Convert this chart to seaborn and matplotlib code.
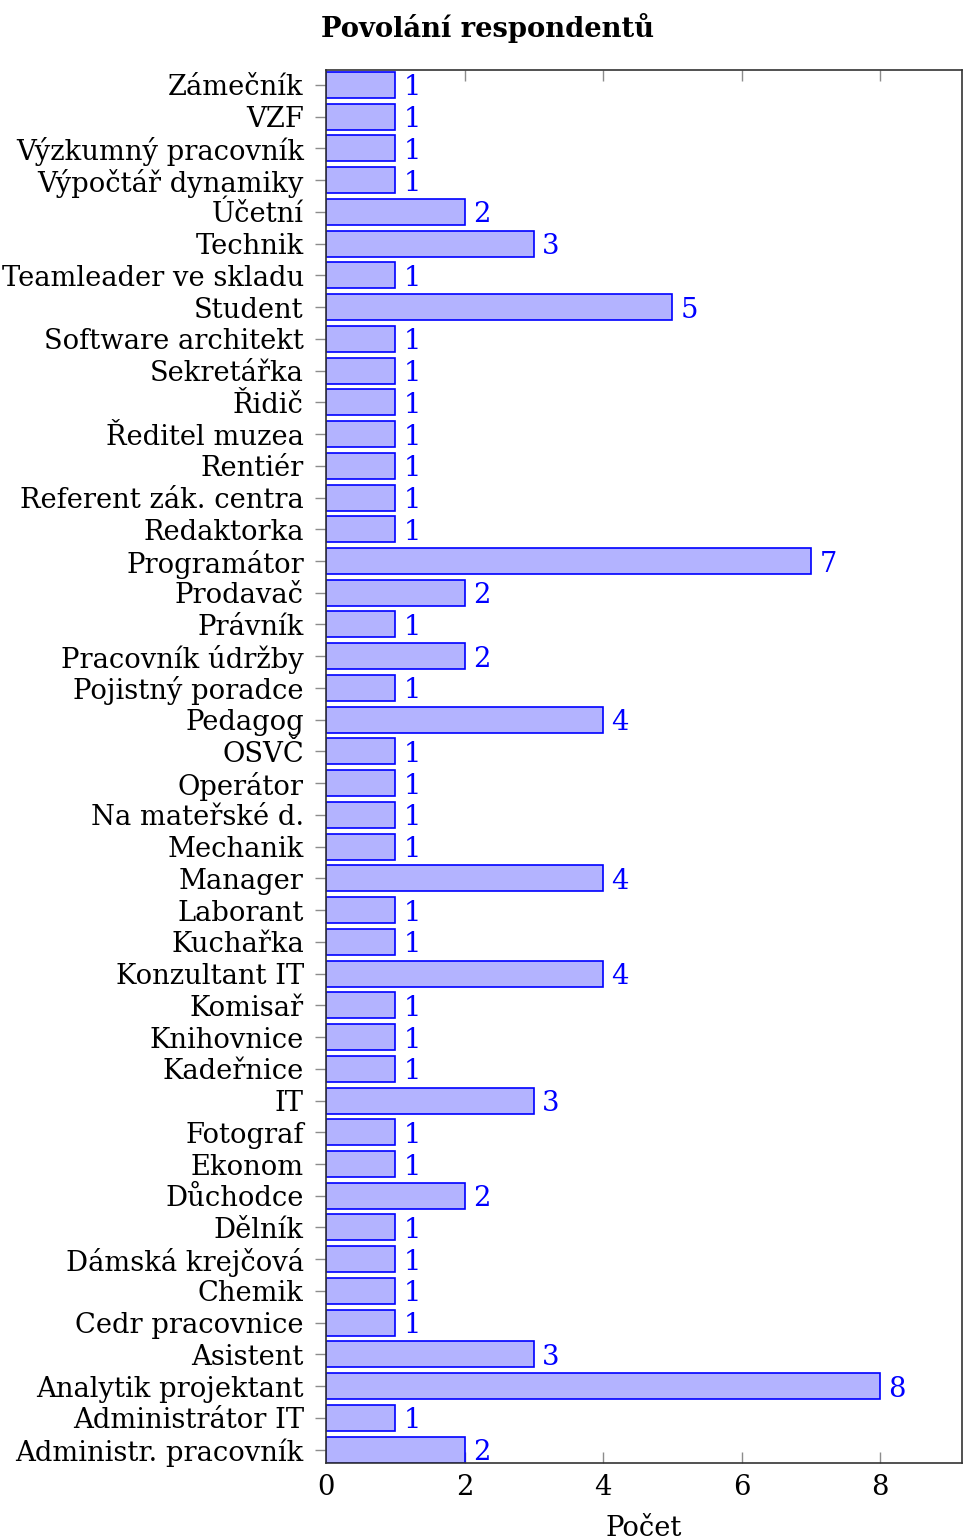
import seaborn as sns
import pandas as pd
import matplotlib.pyplot as plt

# Data (top -> bottom as in chart)
povolani = [
    'Zámečník', 'VZF', 'Výzkumný pracovník', 'Výpočtář dynamiky', 'Účetní',
    'Technik', 'Teamleader ve skladu', 'Student', 'Software architekt',
    'Sekretářka', 'Řidič', 'Ředitel muzea', 'Rentiér', 'Referent zák. centra',
    'Redaktorka', 'Programátor', 'Prodavač', 'Právník', 'Pracovník údržby',
    'Pojistný poradce', 'Pedagog', 'OSVČ', 'Operátor', 'Na mateřské d.',
    'Mechanik', 'Manager', 'Laborant', 'Kuchařka', 'Konzultant IT', 'Komisař',
    'Knihovnice', 'Kadeřnice', 'IT', 'Fotograf', 'Ekonom', 'Důchodce',
    'Dělník', 'Dámská krejčová', 'Chemik', 'Cedr pracovnice', 'Asistent',
    'Analytik projektant', 'Administrátor IT', 'Administr. pracovník',
]
pocet = [
    1, 1, 1, 1, 2,
    3, 1, 5, 1,
    1, 1, 1, 1, 1,
    1, 7, 2, 1, 2,
    1, 4, 1, 1, 1,
    1, 4, 1, 1, 4, 1,
    1, 1, 3, 1, 1, 2,
    1, 1, 1, 1, 3,
    8, 1, 2,
]

df = pd.DataFrame({'Povolání': povolani, 'Počet': pocet})

sns.set_style('white')
plt.rcParams['font.family'] = ['DejaVu Serif']
plt.rcParams['text.color'] = 'black'
plt.rcParams['xtick.labelcolor'] = 'black'
plt.rcParams['ytick.labelcolor'] = 'black'
plt.rcParams['axes.labelcolor'] = 'black'
fs = 19.7

fig = plt.figure(figsize=(9.63, 15.39), dpi=100)
ax = fig.add_axes([0.3385, 0.0494, 0.6605, 0.9051])

sns.barplot(data=df, x='Počet', y='Povolání', orient='h', ax=ax,
            color='#b3b3ff', saturation=1, edgecolor='blue', linewidth=1.2,
            width=0.82)

# hodnoty u sloupců
for i, v in enumerate(pocet):
    ax.annotate(str(v), xy=(v, i), xytext=(6, 0), textcoords='offset points',
                va='center_baseline', ha='left', color='blue', fontsize=fs)

n = len(povolani)
ax.set_xlim(0, 9.18)
ax.set_ylim(n - 1 + 0.42, -0.47)
ax.set_xticks([0, 2, 4, 6, 8])

for s in ax.spines.values():
    s.set_visible(True)
    s.set_color('0.2')
    s.set_linewidth(1.2)

ax.tick_params(axis='y', which='major', left=True, length=8, width=1,
               color='0.55', pad=8, labelsize=fs)
ax.tick_params(axis='x', which='major', bottom=True, top=True, direction='in',
               length=8, width=1, color='0.55', pad=8, labelsize=fs)

ax.set_ylabel('')
ax.set_xlabel('Počet', fontsize=fs, labelpad=10)
fig.suptitle('Povolání respondentů', x=0.506, y=0.9815, fontsize=fs,
             fontweight='bold', va='center')

plt.savefig('out.png', dpi=100)
